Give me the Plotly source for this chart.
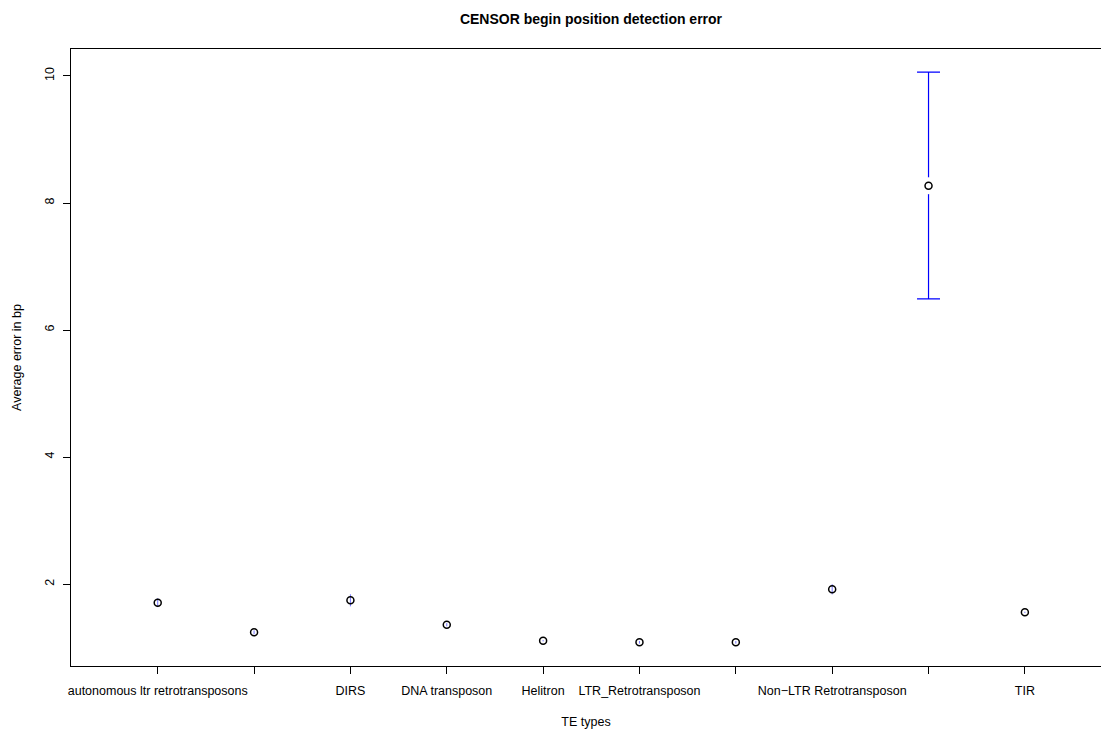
import plotly.graph_objects as go

# TE type positions along the x axis and the labels printed under them
positions = [1, 2, 3, 4, 5, 6, 7, 8, 9, 10]
tick_labels = [
    "autonomous ltr retrotransposons", "", "DIRS", "DNA transposon", "Helitron",
    "LTR_Retrotransposon", "", "Non\u2212LTR Retrotransposon", "", "TIR",
]

# Average begin-position error (bp) and confidence limits
mean_err = [1.706, 1.239, 1.743, 1.359, 1.107, 1.082, 1.082, 1.917, 8.272, 1.554]
upper = [1.776, 1.269, 1.838, 1.384, 1.117, 1.102, 1.102, 1.997, 10.06, 1.564]
lower = [1.636, 1.209, 1.648, 1.334, 1.097, 1.062, 1.062, 1.837, 6.49, 1.544]

FONT = "Liberation Sans, Arial, Helvetica, sans-serif"
BLUE = "#0000ff"
GAP = 0.137  # gap left around each point, in data units

fig = go.Figure()

# confidence bars wide enough to leave a gap around the point get caps
wide = [i for i in range(len(positions)) if upper[i] - mean_err[i] > GAP]
narrow = [i for i in range(len(positions)) if i not in wide]

# narrow intervals: plain vertical segments, mostly hidden by the symbol
fig.add_trace(go.Scatter(
    x=[positions[i] for i in narrow],
    y=[mean_err[i] for i in narrow],
    mode="markers",
    marker=dict(size=1, color="rgba(0,0,0,0)"),
    error_y=dict(type="data", symmetric=False,
                 array=[upper[i] - mean_err[i] for i in narrow],
                 arrayminus=[mean_err[i] - lower[i] for i in narrow],
                 color="rgba(0,0,255,0.55)", thickness=1, width=0),
    hoverinfo="skip", showlegend=False,
))

# wide intervals: capped bars with a white gap around the point
fig.add_trace(go.Scatter(
    x=[positions[i] for i in wide],
    y=[mean_err[i] for i in wide],
    mode="markers",
    marker=dict(size=17, color="white", line=dict(width=0)),
    error_y=dict(type="data", symmetric=False,
                 array=[upper[i] - mean_err[i] for i in wide],
                 arrayminus=[mean_err[i] - lower[i] for i in wide],
                 color=BLUE, thickness=1.2, width=11.5),
    hoverinfo="skip", showlegend=False,
))

# mean values as open circles
fig.add_trace(go.Scatter(
    x=positions, y=mean_err, mode="markers",
    marker=dict(symbol="circle-open", size=7, color="black",
                line=dict(width=1.5, color="black")),
    showlegend=False,
))

fig.update_layout(
    width=1101, height=730,
    margin=dict(l=71, r=0, t=49, b=64),
    paper_bgcolor="white", plot_bgcolor="white",
    font=dict(family=FONT, size=12, color="black"),
    title=dict(text="<b>CENSOR begin position detection error</b>",
               x=591 / 1101, xref="container", xanchor="center",
               y=1 - 19 / 730, yref="container", yanchor="middle",
               font=dict(family=FONT, size=14, color="black")),
)

fig.update_xaxes(
    range=[0.1, 10.79], tickmode="array", tickvals=positions, ticktext=tick_labels,
    showgrid=False, zeroline=False, showline=True, mirror=True,
    linecolor="black", linewidth=1,
    ticks="outside", ticklen=7, tickwidth=1, tickcolor="black",
    ticklabelstandoff=6,
    tickfont=dict(family=FONT, size=12.5, color="black"),
    title=dict(text="TE types", standoff=20, font=dict(family=FONT, size=12.5)),
)

fig.update_yaxes(
    range=[0.709, 10.425], tickmode="array", tickvals=[2, 4, 6, 8, 10],
    ticktext=["2", "4", "6", "8", "10"], tickangle=-90,
    showgrid=False, zeroline=False, showline=True, mirror=False,
    linecolor="black", linewidth=1,
    ticks="outside", ticklen=7, tickwidth=1, tickcolor="black",
    ticklabelstandoff=4,
    tickfont=dict(family=FONT, size=12.5, color="black"),
    title=dict(text="Average error in bp", standoff=18, font=dict(family=FONT, size=12.5)),
)

fig.write_html("out.html")
